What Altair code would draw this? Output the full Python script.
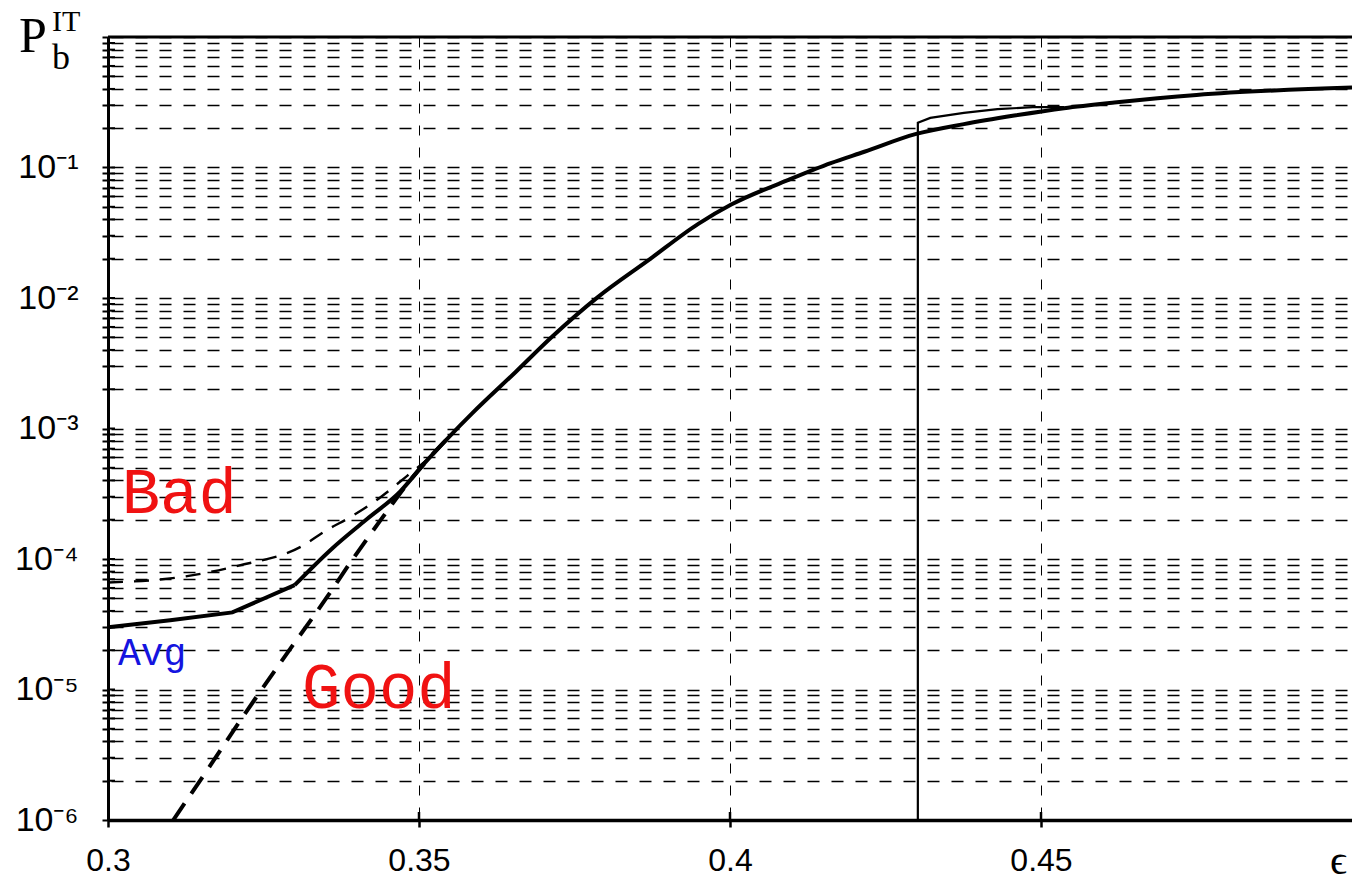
import altair as alt
import pandas as pd

# ---- data ----
avg_x = [0.300, 0.310, 0.320, 0.330, 0.336, 0.3415, 0.347, 0.351, 0.3548, 0.3585,
         0.3655, 0.3713, 0.3788, 0.3869, 0.3949, 0.4002, 0.4093, 0.4162, 0.4216,
         0.4298, 0.4376, 0.4457, 0.4537, 0.4618, 0.475, 0.500]
avg_y = [3.0e-5, 3.4e-5, 3.9e-5, 6.3e-5, 1.2e-4, 2.0e-4, 3.3e-4, 5.5e-4, 8.6e-4, 1.3e-3,
         2.7e-3, 5.0e-3, 1.02e-2, 1.95e-2, 3.7e-2, 5.2e-2, 8.0e-2, 0.108, 0.132,
         0.18, 0.215, 0.25, 0.285, 0.315, 0.36, 0.41]

bad_x = [0.300, 0.312, 0.321, 0.331, 0.3352, 0.339, 0.3435, 0.348, 0.352, 0.3548]
bad_y = [6.6e-5, 7.3e-5, 8.9e-5, 1.24e-4, 1.67e-4, 2.1e-4, 2.9e-4, 4.3e-4, 6.2e-4, 8.6e-4]

good_x = [0.3105, 0.3164, 0.3217, 0.3277, 0.3352, 0.3389, 0.3442, 0.348, 0.352, 0.3548]
good_y = [1.0e-6, 2.6e-6, 6.2e-6, 1.6e-5, 5.1e-5, 9.3e-5, 2.1e-4, 3.7e-4, 6.2e-4, 8.6e-4]

jump_x = [0.4302, 0.4302, 0.4322, 0.4376, 0.443, 0.4487, 0.4537]
jump_y = [1.0e-6, 0.22, 0.24, 0.262, 0.28, 0.29, 0.29]

x_ticks = [0.3, 0.35, 0.4, 0.45]
y_ticks = [m * 10.0 ** k for k in range(-6, 0) for m in range(1, 10)] + [1.0]

labels_text = ["Bad", "Good", "Avg"]
labels_x = [0.3022, 0.3312, 0.3016]
labels_y = [2.25e-4, 7.2e-6, 1.54e-5]
labels_color = ["#f01212", "#f01212", "#1414e0"]
labels_size = [64, 64, 38]

W, H = 1244, 783
KINK = 3  # index of the sharp corner of the Avg curve (0.33)

def series(xs, ys):
    return pd.DataFrame({"x": xs, "y": ys, "i": list(range(len(xs)))})

sup = {-6: "⁻⁶", -5: "⁻⁵", -4: "⁻⁴", -3: "⁻³", -2: "⁻²", -1: "⁻¹"}
expr = ""
for k, s in sup.items():
    v = 10.0 ** k
    expr += f"abs(datum.value - {v}) < {v * 1e-3} ? '10{s}' : "
expr += "''"

x_scale = alt.Scale(domain=[0.3, 0.5], nice=False, zero=False)
y_scale = alt.Scale(type="log", domain=[1e-6, 1], nice=False)

x_axis = alt.Axis(values=x_ticks, labelExpr="format(datum.value, '.2~f')",
                  labelFlush=False, labelOverlap=False,
                  grid=True, gridDash=[10, 12], gridColor="black", gridWidth=1,
                  domainColor="black", domainWidth=3.5, tickColor="black",
                  tickWidth=2.5, tickSize=7, labelFont="Liberation Sans",
                  labelFontSize=32, labelColor="black", labelPadding=18,
                  title="ϵ", titleFont="Liberation Serif", titleFontSize=42,
                  titleFontWeight="normal", titleX=1230, titleY=40,
                  titleAlign="center", titleBaseline="middle", titleColor="black")
y_axis = alt.Axis(values=y_ticks, labelExpr=expr, labelOverlap=False,
                  grid=True, gridDash=[12, 12], gridDashOffset=21,
                  gridColor="black", gridWidth=1.4,
                  domainColor="black", domainWidth=3, tickColor="black",
                  tickWidth=2, tickSize=6, labelFont="Liberation Sans",
                  labelFontSize=34, labelColor="black", labelPadding=24,
                  title=None)

X = alt.X("x:Q", scale=x_scale, axis=x_axis)
Y = alt.Y("y:Q", scale=y_scale, axis=y_axis)

def line(df, **kw):
    return alt.Chart(df).mark_line(color="black", clip=True, **kw).encode(
        x=X, y=Y, order=alt.Order("i:Q"))

avg_lo = line(series(avg_x[:KINK + 1], avg_y[:KINK + 1]), strokeWidth=4)
avg_hi = line(series(avg_x[KINK:], avg_y[KINK:]), strokeWidth=4, interpolate="monotone")
bad = line(series(bad_x, bad_y), strokeWidth=2.4, strokeDash=[15, 11], interpolate="monotone")
good = line(series(good_x, good_y), strokeWidth=4, strokeDash=[20, 12], interpolate="monotone")
jump = line(series(jump_x, jump_y), strokeWidth=2.2)

ytick_df = pd.DataFrame({"y": y_ticks[:-1]})
xtick_df = pd.DataFrame({"x": x_ticks[1:]})
inner_y = alt.Chart(ytick_df).mark_rule(color="black", strokeWidth=2).encode(
    y=Y, x=alt.value(0), x2=alt.value(7))
inner_x = alt.Chart(xtick_df).mark_rule(color="black", strokeWidth=2.5).encode(
    x=X, y=alt.value(H - 8), y2=alt.value(H))
top = alt.Chart(pd.DataFrame({"a": [0]})).mark_rule(color="black", strokeWidth=3).encode(
    x=alt.value(0), x2=alt.value(W), y=alt.value(0))

lab_df = pd.DataFrame({"t": labels_text, "x": labels_x, "y": labels_y,
                       "c": labels_color, "s": labels_size})
labels = alt.Chart(lab_df).mark_text(font="Liberation Mono", align="left",
                                     baseline="alphabetic").encode(
    x=X, y=Y, text="t:N", color=alt.Color("c:N", scale=None),
    size=alt.Size("s:Q", scale=None))

one = pd.DataFrame({"a": [0]})
p_main = alt.Chart(one).mark_text(text="P", font="Liberation Serif", fontSize=50,
                                  align="left", baseline="alphabetic", color="black").encode(
    x=alt.value(-89), y=alt.value(15))
p_sub = alt.Chart(one).mark_text(text="b", font="Liberation Serif", fontSize=36,
                                 align="left", baseline="alphabetic", color="black").encode(
    x=alt.value(-56), y=alt.value(32))
p_sup = alt.Chart(one).mark_text(text="IT", font="Liberation Serif", fontSize=30,
                                 align="left", baseline="alphabetic", color="black").encode(
    x=alt.value(-56), y=alt.value(-6))

chart = alt.layer(inner_y, inner_x, top, good, bad, jump, avg_lo, avg_hi, labels,
                  p_main, p_sub, p_sup).properties(
    width=W, height=H,
    padding={"left": 108, "top": 37, "right": 0, "bottom": 64},
    autosize=alt.AutoSizeParams(type="none"),
    background="white",
).configure_view(stroke=None)

chart.save("out.html", embed_options={"renderer": "svg", "actions": False})
